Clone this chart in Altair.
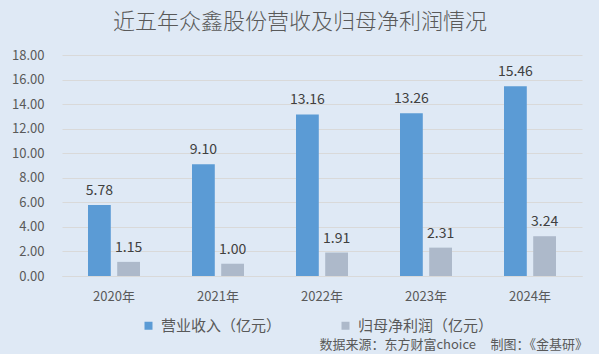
import altair as alt
import pandas as pd

years = ["2020年", "2021年", "2022年", "2023年", "2024年"]
revenue = [5.78, 9.10, 13.16, 13.26, 15.46]
profit = [1.15, 1.00, 1.91, 2.31, 3.24]
series = ["营业收入（亿元）", "归母净利润（亿元）"]
colors = ["#5b9bd5", "#adb9ca"]
y_ticks = [0, 2, 4, 6, 8, 10, 12, 14, 16, 18]
title_text = "近五年众鑫股份营收及归母净利润情况"
source_text = "数据来源：东方财富choice\u00a0\u00a0\u00a0\u00a0\u00a0制图：《金基研》"

rows = []
for i, y in enumerate(years):
    rows.append({"year": y, "series": series[0], "value": revenue[i]})
    rows.append({"year": y, "series": series[1], "value": profit[i]})
df = pd.DataFrame(rows)

FONT = "Noto Sans CJK SC"
TXT = "#595959"

x_enc = alt.X("year:N", sort=years, title=None,
              scale=alt.Scale(paddingInner=0.5, paddingOuter=0.25),
              axis=alt.Axis(labelAngle=0, labelFontSize=13, labelColor=TXT, labelFont=FONT,
                            labelPadding=14, ticks=False, domainColor="#d9d9d9"))
xo_enc = alt.XOffset("series:N", sort=series, scale=alt.Scale(paddingInner=0.22, paddingOuter=0))
y_enc = alt.Y("value:Q", title=None,
              scale=alt.Scale(domain=[0, 18], nice=False),
              axis=alt.Axis(values=y_ticks, format=".2f", labelFontSize=13, labelColor=TXT,
                            labelFont=FONT, labelPadding=18, ticks=False, domain=False,
                            gridColor="#d9d9d9", gridWidth=1))

base = alt.Chart(df)

bars = base.mark_bar().encode(
    x=x_enc, xOffset=xo_enc, y=y_enc,
    color=alt.Color("series:N", sort=series,
                    scale=alt.Scale(domain=series, range=colors),
                    legend=alt.Legend(title=None, orient="none", legendX=79, legendY=263,
                                      direction="horizontal", symbolType="square",
                                      symbolSize=64, symbolStrokeWidth=0,
                                      labelFontSize=15, labelColor=TXT, labelFont=FONT,
                                      columnPadding=56, labelOffset=5)),
)

labels = base.mark_text(baseline="bottom", dy=-7, fontSize=14, color="#404040", font=FONT).encode(
    x=x_enc, xOffset=xo_enc, y=y_enc,
    text=alt.Text("value:Q", format=".2f"),
)

src = alt.Chart(pd.DataFrame({"t": [source_text]})).mark_text(
    align="right", baseline="middle", fontSize=13, color=TXT, font=FONT
).encode(x=alt.value(526), y=alt.value(290), text="t:N")

chart = alt.layer(bars, labels, src).properties(
    width=520, height=221,
    title=alt.TitleParams(title_text, fontSize=22, font=FONT, color=TXT, fontWeight=300,
                          anchor="middle", dx=-22, offset=15),
    background="#dfe9f5",
    padding={"left": 62, "top": 55, "right": 17, "bottom": 78},
    autosize=alt.AutoSizeParams(type="none"),
).configure_view(stroke=None)

chart.save("out.html", embed_options={"renderer": "svg", "actions": False})
